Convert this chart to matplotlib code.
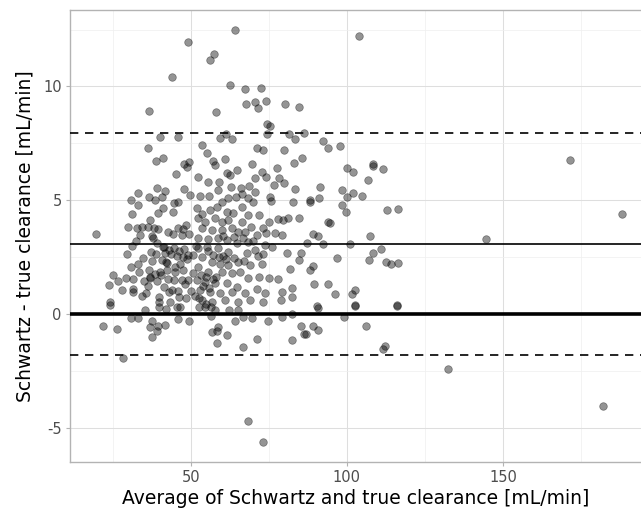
import numpy as np
import matplotlib
matplotlib.use("Agg")
from matplotlib import pyplot as plt
from matplotlib.ticker import MultipleLocator

plt.rcParams["axes.unicode_minus"] = False

# Bland-Altman values: average (x) and difference (y)
avg = [
    49.0, 44.0, 36.7, 40.3, 45.8, 36.5, 39.0, 41.3, 47.9, 49.4,
    64.3, 57.4, 56.2, 62.6, 67.3, 72.6, 58.2, 67.6, 70.6, 71.4,
    74.0, 80.3, 84.6, 74.3, 75.5, 61.2, 59.5, 63.1, 74.5, 81.5,
    83.4, 86.3, 53.6, 55.1, 71.2, 73.3, 79.9, 57.3, 61.0, 69.6,
    83.1, 85.5, 103.9, 92.2, 94.0, 97.9, 108.5,
    45.4, 48.7, 33.1, 39.1, 41.8, 47.8, 30.9, 36.7, 38.5, 40.7,
    33.1, 44.7, 45.8, 49.8, 31.1, 39.7, 41.2, 44.5, 36.9, 19.6,
    29.8, 32.9, 34.4, 36.4, 38.2, 39.5, 33.9, 37.5, 37.8, 42.8,
    44.2, 46.0, 47.6, 48.5, 47.1, 49.5, 32.6, 39.3, 31.1, 29.6,
    37.2, 38.8, 41.9, 43.6, 45.5, 47.6, 49.2, 34.6, 40.8, 42.5,
    46.6, 33.3, 30.9, 37.5, 33.5, 36.6, 40.2, 42.5, 45.1, 47.6,
    25.2, 29.3, 26.9, 31.6, 35.1, 36.9, 39.1, 42.6, 44.7, 47.1,
    49.3, 23.9, 31.6, 36.2, 41.4, 28.0, 31.7, 35.7, 43.1, 46.1,
    34.3, 39.9, 46.3, 24.2, 39.8, 43.4, 48.5, 50.0,
    24.2, 35.4, 39.9, 42.1, 45.5, 46.6, 30.9, 33.2, 37.7, 45.9,
    49.5, 21.9, 26.4, 37.0, 39.3, 39.7, 41.7, 37.5, 28.2,
    52.7, 54.6, 56.5, 57.8, 62.3, 65.0, 64.2, 66.6, 69.5, 74.6,
    79.3, 82.5, 85.3, 86.3, 56.9, 58.4, 58.6, 61.7, 58.5, 71.1,
    66.9, 82.3, 68.2, 73.3,
    90.6, 102.6, 115.9, 99.0, 86.9, 89.0, 90.6, 106.2, 112.2, 111.6,
    171.4, 187.9, 144.5, 132.3, 182.0,
    100.0, 101.9, 108.5, 111.7, 106.7, 91.5, 98.3, 101.9, 100.1, 104.7,
    88.2, 88.1, 91.1, 98.3, 99.8, 112.8, 116.3, 94.0, 94.5, 89.3,
    90.6, 87.1, 92.5, 100.9, 107.3, 110.8, 108.5, 107.0, 96.9, 112.5,
    114.0, 116.4, 89.2, 88.2, 89.5, 93.9, 102.7, 101.7, 96.2, 116.0,
    102.5, 90.5,
    52.2, 55.6, 57.8, 59.0, 61.7, 62.5, 64.9, 62.9, 66.1, 68.6,
    70.6, 72.7, 74.1, 76.7, 78.2, 79.8, 77.6, 83.4, 52.9, 55.9,
    58.8, 59.9, 62.0, 64.4, 66.3, 68.4, 70.6, 70.1, 75.5, 75.7,
    82.7, 52.0, 53.5, 56.3, 58.3, 61.5, 63.6, 66.3, 68.4, 71.8,
    75.0, 78.0, 79.6, 81.2, 84.6, 52.4, 54.6, 57.8, 59.9, 62.0,
    66.5, 69.3, 73.0, 53.5, 56.7, 59.9, 63.1, 65.2, 67.4, 71.2,
    74.1, 76.9, 79.3, 52.4, 55.6, 58.8, 61.5, 64.7, 68.4, 73.8,
    52.4, 55.6, 58.8, 61.8, 67.9, 70.6, 73.2, 80.8, 85.3, 84.6,
    81.9, 53.5, 56.7, 59.4, 62.0, 65.2, 69.0, 72.7, 52.4, 55.6,
    59.9, 63.1, 65.8, 68.4, 71.9, 75.0, 78.0, 51.9, 54.6, 57.8,
    61.5, 64.7, 53.0, 56.2, 59.4, 63.1, 67.4, 71.1, 73.8, 79.1,
    82.3, 53.5, 56.7, 61.0, 65.2, 69.0, 73.2, 78.9, 82.3,
    # darker overlapping clumps in the dense centre
    53.2, 54.1, 55.0, 56.0, 57.1, 51.3, 52.8, 54.9, 56.6, 58.0,
    43.0, 44.6, 46.2, 47.9, 42.1, 45.0, 48.8, 37.1, 38.6, 40.6,
    41.5, 50.6, 51.6, 60.5, 63.8, 66.8, 69.8, 60.2, 64.0, 67.0,
    57.2, 59.1, 61.3, 55.3, 50.9, 48.3, 44.1, 41.0, 71.5, 76.1,
]
diff = [
    11.97, 10.42, 8.92, 7.77, 7.77, 7.28, 6.71, 6.87, 6.59, 6.69,
    12.47, 11.43, 11.15, 10.07, 9.88, 9.93, 8.86, 9.23, 9.30, 9.07,
    9.36, 9.23, 9.10, 8.34, 8.26, 7.91, 7.75, 7.68, 7.91, 7.90,
    7.71, 7.96, 7.41, 7.09, 7.28, 7.22, 7.22, 6.71, 6.83, 6.59,
    6.64, 6.84, 12.20, 7.59, 7.30, 7.37, 6.59,
    6.14, 6.48, 5.31, 5.53, 5.41, 5.48, 5.00, 5.14, 5.00, 5.13,
    4.79, 4.87, 4.91, 5.23, 4.41, 4.43, 4.67, 4.50, 4.12, 3.53,
    3.82, 3.78, 3.81, 3.81, 3.79, 3.74, 3.47, 3.44, 3.35, 3.62,
    3.50, 3.77, 3.74, 3.91, 3.49, 3.50, 3.21, 3.13, 2.99, 2.64,
    2.74, 2.65, 2.69, 2.65, 2.56, 2.52, 2.59, 2.45, 2.39, 2.26,
    2.21, 2.21, 2.05, 2.33, 1.86, 1.95, 1.83, 1.95, 1.86, 1.92,
    1.73, 1.57, 1.46, 1.52, 1.45, 1.57, 1.46, 1.52, 1.51, 1.49,
    1.49, 1.27, 1.10, 1.25, 1.20, 1.04, 0.98, 0.92, 0.98, 1.01,
    0.81, 0.75, 0.73, 0.51, 0.51, 0.51, 0.69, 1.01,
    0.40, 0.18, 0.32, 0.22, 0.32, 0.32, -0.19, -0.16, -0.31, -0.23,
    -0.31, -0.51, -0.65, -0.58, -0.75, -0.54, -0.50, -1.02, -1.93,
    0.32, 0.32, -0.07, 0.18, 0.16, 0.18, -0.31, -0.13, -0.16, -0.32,
    -0.12, -0.01, -0.53, -0.89, -0.81, -0.75, -0.56, -0.91, -1.29, -1.10,
    -1.44, -1.14, -4.69, -5.64,
    0.28, 0.35, 0.35, -0.12, -0.89, -0.53, -0.72, -0.53, -1.39, -1.55,
    6.75, 4.40, 3.30, -2.43, -4.04,
    6.40, 6.24, 6.52, 6.39, 5.88, 5.58, 5.44, 5.32, 5.16, 5.17,
    5.01, 4.91, 5.10, 4.78, 4.47, 4.56, 4.60, 4.03, 4.00, 3.50,
    3.43, 3.12, 3.06, 3.08, 3.43, 2.84, 2.69, 2.39, 2.45, 2.29,
    2.18, 2.26, 2.12, 1.92, 1.32, 1.33, 1.04, 0.88, 0.89, 0.40,
    0.41, 0.36,
    6.04, 5.82, 6.55, 5.79, 6.18, 6.11, 6.33, 5.60, 5.55, 5.64,
    5.96, 6.25, 6.01, 5.67, 5.96, 5.74, 6.40, 5.49, 5.20, 5.19,
    5.45, 4.94, 5.08, 5.16, 5.27, 5.11, 5.38, 4.91, 5.16, 4.97,
    4.94, 4.65, 4.38, 4.57, 4.69, 4.50, 4.43, 4.72, 4.35, 4.35,
    4.06, 4.16, 4.13, 4.21, 4.23, 4.21, 4.06, 4.21, 4.06, 4.13,
    4.06, 3.84, 3.80, 3.77, 3.69, 3.69, 3.77, 3.62, 3.62, 3.47,
    3.55, 3.55, 3.47, 3.33, 3.30, 3.33, 3.25, 3.11, 3.18, 3.03,
    2.89, 2.77, 2.89, 2.71, 2.67, 2.81, 2.62, 2.67, 2.67, 2.37,
    1.98, 2.52, 2.30, 2.18, 2.15, 2.30, 2.15, 2.18, 2.08, 1.86,
    1.86, 1.79, 1.83, 1.57, 1.64, 1.57, 1.52, 1.49, 1.42, 1.35,
    1.35, 1.20, 1.05, 0.98, 0.91, 0.98, 0.91, 1.10, 0.91, 0.98,
    1.13, 0.62, 0.54, 0.62, 0.54, 0.62, 0.54, 0.62, 0.76,
    1.70, 1.25, 1.62, 1.15, 1.55, 0.80, 0.70, 0.45, 0.30, 1.65,
    2.80, 2.90, 2.75, 2.85, 2.30, 2.05, 2.40, 1.65, 1.75, 1.70,
    2.95, 2.60, 3.00, 3.45, 3.40, 3.35, 3.20, 2.55, 2.45, 2.35,
    2.60, 2.50, 2.40, 2.95, 1.80, 1.30, 1.05, 2.95, 2.55, 2.95,
]

# reference lines: zero, mean difference, limits of agreement
mean_diff = 3.1
loa_upper = 7.95
loa_lower = -1.78

fig = plt.figure(figsize=(6.41, 5.13), dpi=100)
ax = fig.add_axes([70 / 641, 51 / 513, 571 / 641, 452 / 513])

ax.set_xlim(11.4, 194.1)
ax.set_ylim(-6.5, 13.36)

ax.xaxis.set_major_locator(MultipleLocator(50))
ax.xaxis.set_minor_locator(MultipleLocator(25))
ax.yaxis.set_major_locator(MultipleLocator(5))
ax.yaxis.set_minor_locator(MultipleLocator(2.5))
ax.grid(which="major", color="#dedede", linewidth=0.75)
ax.grid(which="minor", color="#efefef", linewidth=0.5)
ax.set_axisbelow(True)

for s in ax.spines.values():
    s.set_color("#b3b3b3")
    s.set_linewidth(1.0)
ax.spines["right"].set_visible(False)
ax.tick_params(which="major", length=3, color="#b3b3b3", labelcolor="#4d4d4d", labelsize=10.5, pad=3)
ax.tick_params(which="minor", length=0)

ax.scatter(avg, diff, s=30, color="black", alpha=0.42, edgecolors="black", linewidths=0.5, zorder=2)

ax.axhline(0, color="black", linewidth=2.6, zorder=3)
ax.axhline(mean_diff, color="black", linewidth=1.2, zorder=3)
ax.axhline(loa_upper, color="black", linewidth=1.2, linestyle=(0, (5, 4)), zorder=3)
ax.axhline(loa_lower, color="black", linewidth=1.2, linestyle=(0, (5, 4)), zorder=3)

ax.set_xlabel("Average of Schwartz and true clearance [mL/min]", fontsize=13.5, labelpad=3)
ax.set_ylabel("Schwartz - true clearance [mL/min]", fontsize=13.5, labelpad=6)

fig.savefig("out.png", dpi=100)
